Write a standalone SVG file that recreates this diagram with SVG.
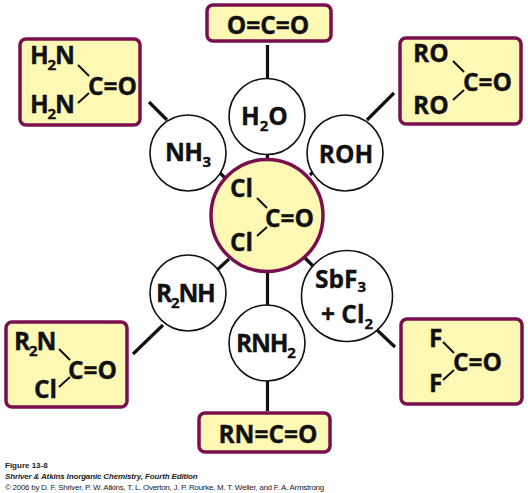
<svg xmlns="http://www.w3.org/2000/svg" width="528" height="493" viewBox="0 0 528 493">
<style>
text{font-family:"Open Sans","Noto Sans",sans-serif;font-weight:700;fill:#111}
.f{font-size:24.5px;stroke:#111;stroke-width:.35}
.t{letter-spacing:-1.2px}
.s{font-size:15px}
.box{fill:#fdf8b4;stroke:#7a0f50;stroke-width:3.5}
.ring{fill:#fff;stroke:#111;stroke-width:1.6}
.con line{stroke:#111;stroke-width:3.2;fill:none}
.b{stroke:#111;stroke-width:2;fill:none}
.cap{font-family:"Liberation Sans",Arial,sans-serif;font-size:8px;font-weight:400;fill:#222}
</style>
<rect width="528" height="493" fill="#fff"/>
<g id="connectors" class="con">
<line x1="267.500" y1="45" x2="267.500" y2="79"/>
<line x1="267.500" y1="153" x2="267.500" y2="160"/>
<line x1="149" y1="102" x2="167" y2="120"/>
<line x1="394" y1="93" x2="367" y2="120"/>
<line x1="220" y1="173" x2="227" y2="180"/>
<line x1="310" y1="175" x2="313" y2="172"/>
<line x1="229" y1="259" x2="217" y2="270"/>
<line x1="163" y1="325" x2="133" y2="354"/>
<line x1="305" y1="258" x2="313" y2="266"/>
<line x1="377" y1="330" x2="395" y2="347"/>
<line x1="267.500" y1="272" x2="267.500" y2="306"/>
<line x1="267.500" y1="381" x2="267.500" y2="411"/>
</g>
<g id="co2"><rect class="box" x="207" y="5" width="124" height="36" rx="6"/><text class="f" x="268" y="34" text-anchor="middle">O=C=O</text></g>
<g id="urea"><rect class="box" x="20" y="39" width="120" height="86" rx="6"/>
<text class="f t" x="30" y="64">H<tspan class="s" dy="6">2</tspan><tspan dy="-6">N</tspan></text>
<text class="f t" x="30" y="113">H<tspan class="s" dy="6">2</tspan><tspan dy="-6">N</tspan></text>
<text class="f" x="88" y="95">C=O</text>
<path class="b" d="M78 65L89 76M78 103L89 93"/></g>
<g id="carbonate"><rect class="box" x="400" y="38" width="121" height="86" rx="6"/>
<text class="f" x="413" y="62">RO</text><text class="f" x="413" y="114">RO</text>
<text class="f" x="463" y="91">C=O</text>
<path class="b" d="M453 61L464 72M453 100L464 90"/></g>
<g id="h2o"><circle class="ring" cx="267" cy="116.500" r="38"/><text class="f" x="241" y="125">H<tspan class="s" dy="6">2</tspan><tspan dy="-6">O</tspan></text></g>
<g id="nh3"><circle class="ring" cx="188" cy="153" r="38"/><text class="f" x="165" y="161" style="letter-spacing:-.6px">NH<tspan class="s" dy="6">3</tspan></text></g>
<g id="roh"><circle class="ring" cx="345" cy="153" r="38"/><text class="f" x="346" y="163" text-anchor="middle">ROH</text></g>
<g id="phosgene"><circle cx="267" cy="215.500" r="56" fill="#fdf8b4" stroke="#7a0f50" stroke-width="3.5"/>
<text class="f" x="230" y="197">Cl</text><text class="f" x="230" y="251">Cl</text>
<text class="f" x="265" y="227">C=O</text>
<path class="b" d="M257 198L267 208M257 236L267 227"/></g>
<g id="r2nh"><circle class="ring" cx="188" cy="293" r="38"/><text class="f t" x="156" y="302">R<tspan class="s" dy="6">2</tspan><tspan dy="-6">NH</tspan></text></g>
<g id="rnh2"><circle class="ring" cx="267" cy="343" r="38"/><text class="f t" x="236" y="352">RNH<tspan class="s" dy="6">2</tspan></text></g>
<g id="sbf3"><circle class="ring" cx="347" cy="296" r="45.500"/>
<text class="f" x="315" y="288">SbF<tspan class="s" dy="4">3</tspan></text>
<text class="f" x="321" y="323">+ Cl<tspan class="s" dy="6">2</tspan></text></g>
<g id="carbamoyl"><rect class="box" x="6" y="322" width="121" height="85" rx="6"/>
<text class="f t" x="14" y="350">R<tspan class="s" dy="6">2</tspan><tspan dy="-6">N</tspan></text>
<text class="f" x="34" y="398">Cl</text>
<text class="f" x="68" y="379">C=O</text>
<path class="b" d="M59 349L70 360M59 387L70 377"/></g>
<g id="isocyanate"><rect class="box" x="199" y="413" width="131" height="39" rx="6"/><text class="f" x="268" y="443" text-anchor="middle">RN=C=O</text></g>
<g id="cof2"><rect class="box" x="401" y="319" width="121" height="85" rx="6"/>
<text class="f" x="429" y="347">F</text><text class="f" x="429" y="392">F</text>
<text class="f" x="453" y="371">C=O</text>
<path class="b" d="M443 342L454 353M443 380L454 370"/></g>
<g id="caption">
<text class="cap" x="5" y="468" style="font-weight:700">Figure 13-8</text>
<text class="cap" x="5" y="479" style="font-weight:700;font-style:italic;letter-spacing:-.15px">Shriver &amp; Atkins Inorganic Chemistry, Fourth Edition</text>
<text class="cap" x="5" y="490" style="letter-spacing:-.27px">© 2006 by D. F. Shriver, P. W. Atkins, T. L. Overton, J. P. Rourke, M. T. Weller, and F. A. Armstrong</text>
</g>
</svg>
